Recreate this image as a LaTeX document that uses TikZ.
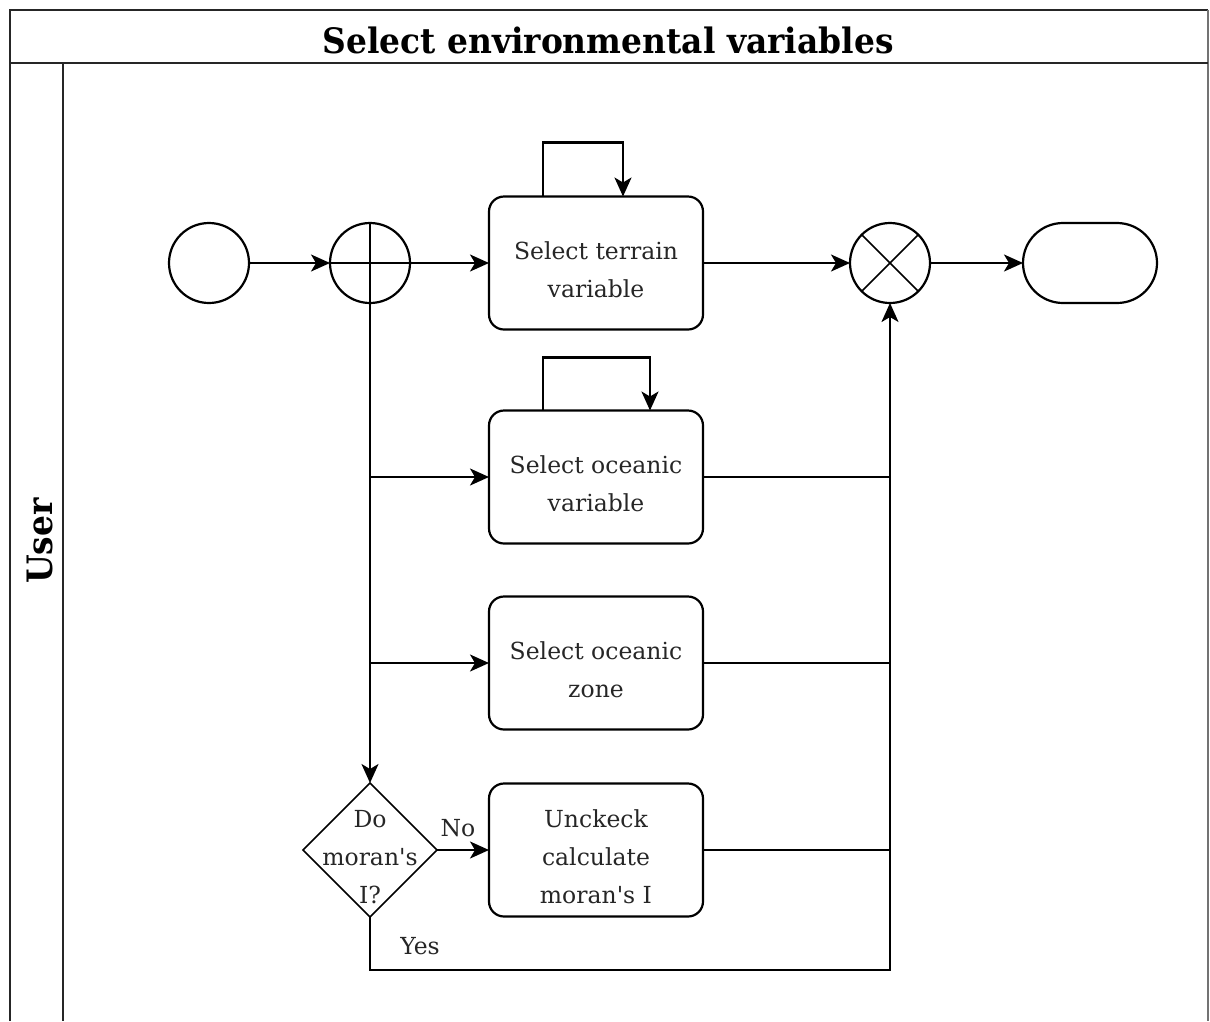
\documentclass[tikz,border=0pt]{standalone}
\usepackage{fontspec}
\setmainfont{DejaVu Serif}[Ligatures=TeXOff]
\usetikzlibrary{arrows.meta,shapes.geometric,calc}

\begin{document}
\begin{tikzpicture}[
  x=1pt, y=-1pt,
  line width=2.2pt,
  every node/.style={inner sep=0pt, outer sep=0pt},
  lane/.style={line width=2.6pt, draw=black!85},
  thinlane/.style={line width=1.6pt, draw=black!55},
  task/.style={draw, rounded corners=15pt, minimum width=214pt, minimum height=133pt},
  tasktext/.style={align=center, font=\fontsize{23.5}{38}\selectfont, text=black!85},
  event/.style={draw, circle, minimum size=80pt},
  gate/.style={draw, circle, minimum size=80pt},
  term/.style={draw, rounded corners=40pt, minimum width=134pt, minimum height=80pt},
  decision/.style={draw, diamond, line width=1.6pt, minimum width=134pt, minimum height=134pt, aspect=1},
  mark lines/.style={line width=1.6pt},
  flow/.style={-{Stealth[length=19pt,width=17pt,inset=5pt]}},
  lbl/.style={font=\fontsize{23.5}{28}\selectfont, text=black!85},
  heading/.style={font=\fontsize{35}{40}\selectfont\bfseries},
]
\useasboundingbox (0,0) rectangle (1210,1021);

% pool frame with title band and lane header
\draw[lane] (10,1021) -- (10,10) -- (1208,10);
\draw[thinlane] (1208,10) -- (1208,1021);
\draw[lane] (10,63) -- (1208,63);
\draw[lane] (63,63) -- (63,1021);
\node[heading] (title) at (608,40) {\scalebox{0.94}[1]{Select environmental variables}};
\node[heading, rotate=90] (lanename) at (40,541) {\scalebox{0.94}[1]{User}};

% events and gateways
\node[event] (start) at (209,263) {};
\node[gate] (fork) at (370,263) {};
\draw[mark lines] (fork.north) -- (fork.south);
\draw[mark lines] (fork.west) -- (fork.east);
\node[gate] (join) at (890,263) {};
\draw[mark lines] (join.45) -- (join.225);
\draw[mark lines] (join.135) -- (join.315);
\node[term] (finish) at (1090,263) {};

% tasks
\node[task] (terrain) at (596,263) {};
\node[task] (oceanvar) at (596,477) {};
\node[task] (oceanzone) at (596,663) {};
\node[task] (uncheck) at (596,850) {};
\node[decision] (moran) at (370,850) {};

\node[tasktext] (terrainlbl) at ([yshift=-7pt]terrain.center) {Select terrain\\variable};
\node[tasktext] (oceanvarlbl) at ([yshift=-7pt]oceanvar.center) {Select oceanic\\variable};
\node[tasktext] (oceanzonelbl) at ([yshift=-7pt]oceanzone.center) {Select oceanic\\zone};
\node[tasktext] (uncheckLbl) at ([yshift=-7pt]uncheck.center) {Unckeck\\calculate\\moran's I};
\node[tasktext] (moranlbl) at ([yshift=-7pt]moran.center) {Do\\moran's\\I?};

% sequence flows
\draw[flow] (start) -- (fork);
\draw[flow] (fork) -- (terrain);
\draw[flow] (terrain) -- (join);
\draw[flow] (join) -- (finish);
\draw[flow] (fork.south) -- (moran.north);
\coordinate (b2) at (370,477);
\coordinate (b3) at (370,663);
\draw[flow] (b2) -- (oceanvar.west);
\draw[flow] (b3) -- (oceanzone.west);
\draw[flow] (moran.east) -- (uncheck.west);
\node[lbl] (no) at (458,828) {No};

% merging into the exclusive gateway
\draw (oceanvar.east) -- (join |- oceanvar.east);
\draw (oceanzone.east) -- (join |- oceanzone.east);
\draw (uncheck.east) -- (join |- uncheck.east);
\coordinate (yesbend) at (370,970);
\draw[flow] (moran.south) -- (yesbend) -- (890,970) -- (join.south);
\node[lbl] (yes) at (420,946) {Yes};

% self loops on the selection tasks
\draw[flow] ([xshift=-53pt]terrain.north) -- ++(0,-54) -| ([xshift=27pt]terrain.north);
\draw[flow] ([xshift=-53pt]oceanvar.north) -- ++(0,-53) -| ([xshift=54pt]oceanvar.north);
\end{tikzpicture}
\end{document}
